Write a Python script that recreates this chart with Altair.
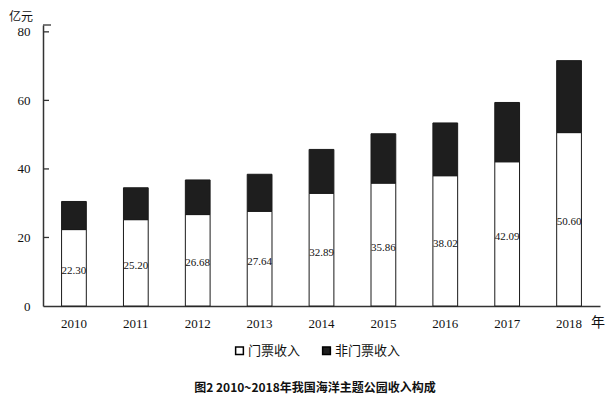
import altair as alt
import pandas as pd

years = ["2010", "2011", "2012", "2013", "2014", "2015", "2016", "2017", "2018"]
ticket = [22.30, 25.20, 26.68, 27.64, 32.89, 35.86, 38.02, 42.09, 50.60]
non_ticket = [8.2, 9.3, 10.1, 10.8, 12.8, 14.4, 15.4, 17.3, 21.0]
series_names = ["门票收入", "非门票收入"]
y_ticks = [0, 20, 40, 60, 80]
y_unit = "亿元"
x_unit = "年"
fig_title = "图2  2010~2018年我国海洋主题公园收入构成"

rows = []
for i, yr in enumerate(years):
    rows.append({"year": yr, "series": series_names[0], "value": ticket[i], "ord": 0})
    rows.append({"year": yr, "series": series_names[1], "value": non_ticket[i], "ord": 1})
df = pd.DataFrame(rows)
lab = pd.DataFrame({"year": years, "ticket": ticket})
tick_df = pd.DataFrame({"v": y_ticks[1:]})
one = pd.DataFrame({"a": [0]})

W, H = 557, 281
CJK = "Noto Sans CJK SC"
SERIF = "Liberation Serif"

xscale = alt.Scale(domain=years, paddingInner=0.6, paddingOuter=0.3)
yscale = alt.Scale(domain=[0, 82], nice=False)

bars = alt.Chart(df).mark_bar(stroke="#1a1a1a", strokeWidth=1).encode(
    x=alt.X("year:N", scale=xscale, sort=years,
            axis=alt.Axis(title=None, ticks=False, labelAngle=0, labelPadding=11,
                          labelFont=SERIF, labelFontSize=13, labelColor="#111",
                          domainColor="#333", domainWidth=1.5)),
    y=alt.Y("value:Q", stack="zero", scale=yscale,
            axis=alt.Axis(title=None, values=y_ticks, ticks=False, grid=False,
                          labelPadding=13, labelFont=SERIF, labelFontSize=13,
                          labelColor="#111", domainColor="#333", domainWidth=1.5)),
    color=alt.Color("series:N",
                    scale=alt.Scale(domain=series_names, range=["#ffffff", "#1e1e1e"]),
                    legend=alt.Legend(title=None, orient="none", legendX=190, legendY=319,
                                      direction="horizontal", symbolType="square",
                                      symbolSize=60, symbolStrokeColor="#000",
                                      symbolStrokeWidth=1.5, labelFont=CJK,
                                      labelFontSize=13, labelColor="#111",
                                      columnPadding=18, labelOffset=2)),
    order=alt.Order("ord:Q"),
)

labels = alt.Chart(lab).transform_calculate(
    mid="datum.ticket / 2"
).mark_text(font=SERIF, fontSize=11, color="#111", dy=3).encode(
    x=alt.X("year:N", scale=xscale, sort=years),
    y=alt.Y("mid:Q", scale=yscale),
    text=alt.Text("ticket:Q", format=".2f"),
)

ticks = alt.Chart(tick_df).mark_rule(color="#333", strokeWidth=1.3).encode(
    y=alt.Y("v:Q", scale=yscale),
    x=alt.value(0), x2=alt.value(6),
)
cap = alt.Chart(one).mark_rule(color="#333", strokeWidth=1.3).encode(
    y=alt.value(0), x=alt.value(0), x2=alt.value(8),
)

unit_y = alt.Chart(one).mark_text(font=CJK, fontSize=12, color="#111").encode(
    x=alt.value(-22), y=alt.value(-8), text=alt.value(y_unit))
unit_x = alt.Chart(one).mark_text(font=CJK, fontSize=14, color="#111", align="right").encode(
    x=alt.value(562), y=alt.value(H + 17), text=alt.value(x_unit))
title = alt.Chart(one).mark_text(font=CJK, fontSize=12, fontWeight="bold", color="#111").encode(
    x=alt.value(272), y=alt.value(363), text=alt.value(fig_title))

chart = alt.layer(bars, labels, ticks, cap, unit_y, unit_x, title).properties(
    width=W, height=H,
    autosize=alt.AutoSizeParams(type="none"),
    padding={"left": 35, "top": 17, "right": 6, "bottom": 93},
    background="white",
).configure_view(stroke=None)

chart.save("out.html", embed_options={"renderer": "svg", "actions": False})
